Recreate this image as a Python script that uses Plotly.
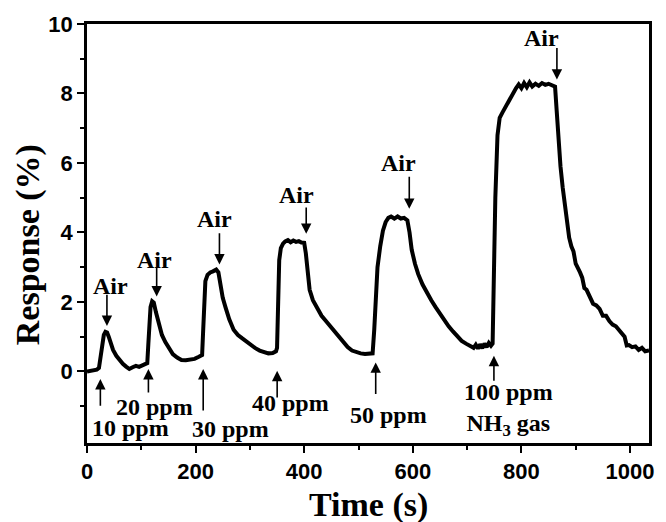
import plotly.graph_objects as go

# Sensor response trace (time in s, response in %)
time_s = [
    0, 10, 18, 22, 25, 28, 31, 34, 37, 40, 44, 48, 54, 60, 66, 72, 78, 84, 90, 96, 102, 108, 111,
    113, 115, 117, 120, 123, 127, 132, 138, 144, 150, 158, 166, 174, 182, 190, 198, 206, 212,
    214, 216, 218, 222, 227, 232, 238, 242, 246, 250, 255, 262, 270, 278, 286, 294, 302, 310,
    318, 326, 334, 342, 348, 350,
    352, 354, 357, 361, 365, 370, 375, 380, 385, 390, 395, 400, 403, 406, 410, 416, 424, 432,
    440, 448, 456, 464, 472, 480, 488, 496, 504, 512, 520, 526,
    529, 532, 535, 540, 545, 550, 555, 560, 566, 572, 578, 584, 590, 594, 598, 604, 610, 618,
    626, 634, 642, 650, 658, 666, 674, 682, 690, 698, 706, 712, 716, 720, 724, 728, 732, 736,
    740, 744, 747,
    749, 752, 756, 760, 765, 770, 775, 780, 785, 790, 795, 800, 805, 810, 815, 820, 826, 832,
    838, 844, 850, 856, 862, 865, 868, 872, 876, 880, 884, 888, 892, 896, 900, 904, 908, 912,
    916, 920, 926, 932, 938, 944, 950, 956, 962, 968, 974, 980, 986, 990, 994, 998, 1004,
    1010, 1016, 1022, 1028, 1035,
]
response = [
    0.00, 0.02, 0.05, 0.10, 0.45, 0.85, 1.05, 1.14, 1.12, 1.00, 0.80, 0.62, 0.45, 0.31, 0.22,
    0.14, 0.07, 0.12, 0.16, 0.13, 0.18, 0.21, 0.24,
    0.80, 1.50, 1.85, 2.02, 1.98, 1.70, 1.40, 1.05, 0.85, 0.68, 0.50, 0.40, 0.33, 0.32, 0.35,
    0.36, 0.42, 0.47,
    1.20, 2.20, 2.60, 2.78, 2.85, 2.88, 2.93, 2.85, 2.40, 2.12, 1.85, 1.50, 1.20, 1.05, 0.95,
    0.85, 0.76, 0.67, 0.60, 0.55, 0.52, 0.53, 0.58, 0.68,
    2.00, 3.20, 3.55, 3.68, 3.74, 3.78, 3.72, 3.77, 3.73, 3.75, 3.71, 3.70, 3.40, 2.80, 2.35,
    2.05, 1.80, 1.60, 1.45, 1.30, 1.12, 0.98, 0.83, 0.70, 0.60, 0.55, 0.52, 0.50, 0.50, 0.52,
    1.20, 2.20, 3.00, 3.60, 4.05, 4.30, 4.42, 4.46, 4.40, 4.46, 4.40, 4.42, 4.35, 4.00, 3.50,
    3.10, 2.80, 2.50, 2.25, 2.05, 1.85, 1.65, 1.48, 1.30, 1.15, 1.00, 0.88, 0.80, 0.72, 0.68,
    0.77, 0.66, 0.78, 0.67, 0.80, 0.70, 0.82, 0.74, 0.80,
    2.50, 5.00, 6.80, 7.30, 7.45, 7.60, 7.75, 7.90, 8.05, 8.15, 8.26, 8.15, 8.30, 8.18, 8.32,
    8.20, 8.28, 8.22, 8.30, 8.25, 8.28, 8.24, 8.20, 7.50, 6.60, 5.90, 5.30, 4.80, 4.30, 3.85,
    3.60, 3.45, 3.10, 3.00, 2.85, 2.70, 2.40, 2.35, 2.15, 1.95, 1.90, 1.80, 1.60, 1.60, 1.45,
    1.35, 1.30, 1.20, 1.10, 1.00, 0.75, 0.76, 0.70, 0.72, 0.62, 0.68, 0.58, 0.60,
]

# "Air" markers: label position, arrow tail and tip
air_label_t = [43, 124, 234, 386, 573, 837]
air_label_v = [2.45, 3.21, 4.39, 5.08, 5.99, 9.59]
air_arrow_t = [36.7, 128.3, 243.9, 403.7, 593.5, 865.4]
air_arrow_from = [2.25, 3.02, 4.02, 4.76, 5.65, 9.35]
air_arrow_to = [1.31, 2.16, 3.08, 3.96, 4.68, 8.40]

# Gas injection markers
gas_labels = ["10 ppm", "20 ppm", "30 ppm", "40 ppm", "50 ppm", "100 ppm<br>NH<sub>3</sub> gas"]
gas_label_t = [80, 124, 265, 375, 555, 777]
gas_label_v = [-1.63, -1.02, -1.66, -0.92, -1.25, -1.10]
gas_arrow_t = [24.6, 113.1, 214.0, 350.2, 531.7, 749.4]
gas_arrow_from = [-1.03, -0.65, -1.17, -0.79, -0.69, -0.31]
gas_arrow_to = [-0.22, 0.07, 0.07, 0.02, 0.26, 0.45]

x_ticks = [0, 200, 400, 600, 800, 1000]
x_minor = [100, 300, 500, 700, 900]
y_ticks = [0, 2, 4, 6, 8, 10]
y_minor = [-1, 1, 3, 5, 7, 9]

serif = "Liberation Serif"
sans = "Arial, Liberation Sans"

fig = go.Figure()
fig.add_trace(go.Scatter(x=time_s, y=response, mode="lines",
                         line=dict(color="black", width=4), showlegend=False))

ann = []
arrow_style = dict(showarrow=True, arrowhead=2, arrowsize=1.3, arrowwidth=1.6,
                   arrowcolor="black", axref="x", ayref="y", xref="x", yref="y",
                   text="", standoff=0, startstandoff=0)
for t, y0, y1 in zip(air_arrow_t, air_arrow_from, air_arrow_to):
    ann.append(dict(x=t, y=y1, ax=t, ay=y0, **arrow_style))
for t, y0, y1 in zip(gas_arrow_t, gas_arrow_from, gas_arrow_to):
    ann.append(dict(x=t, y=y1, ax=t, ay=y0, **arrow_style))

label_font = dict(family=serif, size=24, color="black", weight="bold")
for t, v in zip(air_label_t, air_label_v):
    ann.append(dict(x=t, y=v, text="Air", showarrow=False, xanchor="center",
                    yanchor="middle", font=label_font))
for txt, t, v in zip(gas_labels, gas_label_t, gas_label_v):
    ann.append(dict(x=t, y=v, text=txt, showarrow=False, xanchor="center",
                    yanchor="middle", font=label_font))

# Axis titles
title_font = dict(family=serif, size=34, color="black", weight="bold")
ann.append(dict(xref="paper", yref="paper", x=0.5015, y=-0.148, text="Time (s)",
                showarrow=False, xanchor="center", yanchor="middle", font=title_font))
ann.append(dict(xref="paper", yref="paper", x=-0.106, y=0.473, text="Response (%)",
                showarrow=False, xanchor="center", yanchor="middle", textangle=-90,
                font=title_font))

axis_common = dict(showline=True, linewidth=2.5, linecolor="black", mirror=True,
                   ticks="outside", ticklen=7, tickwidth=2, tickcolor="black",
                   showgrid=False, zeroline=False,
                   tickfont=dict(family=sans, size=22, color="black", weight=800))

fig.update_layout(
    width=666, height=522,
    margin=dict(l=87, t=21, r=14, b=79),
    paper_bgcolor="white", plot_bgcolor="white",
    xaxis=dict(range=[0, 1035], tickmode="array", tickvals=x_ticks,
               ticktext=[str(v) for v in x_ticks],
               minor=dict(tickvals=x_minor, ticks="outside", ticklen=4,
                          tickwidth=2, tickcolor="black"),
               **axis_common),
    yaxis=dict(range=[-2.06, 10], tickmode="array", tickvals=y_ticks,
               ticktext=[str(v) for v in y_ticks],
               minor=dict(tickvals=y_minor, ticks="outside", ticklen=4,
                          tickwidth=2, tickcolor="black"),
               **axis_common),
    annotations=ann,
)

fig.write_html("out.html")
